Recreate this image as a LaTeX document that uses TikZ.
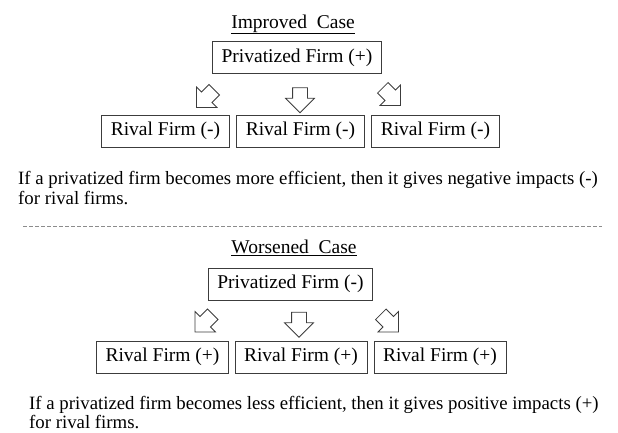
\documentclass[tikz,border=0pt]{standalone}
\usepackage{fontspec}
\setmainfont{Liberation Serif}
\usepackage{tikz}
\usetikzlibrary{shapes.arrows}
\usepackage{xcolor}
\definecolor{linegray}{RGB}{60, 60, 60}
\definecolor{sepgray}{RGB}{140, 140, 140}

\tikzset{
  firmbox/.style={draw=linegray, line width=0.8pt, minimum height=32pt,
    inner xsep=9pt, inner ysep=0pt, font=\fontsize{19.5}{20}\selectfont},
  blockarrow/.style={single arrow, draw=linegray, line width=0.8pt,
    inner xsep=0pt, inner ysep=7pt, minimum height=25pt,
    single arrow head extend=7pt},
  casetitle/.style={font=\fontsize{19.5}{20}\selectfont, anchor=base},
  note/.style={font=\fontsize{18.8}{20}\selectfont, anchor=base west, inner sep=0pt}
}

\begin{document}
\begin{tikzpicture}[x=1pt, y=1pt]
        \useasboundingbox (0,0) rectangle (618,-432);

        % ---- IMPROVED CASE ----
        \node[casetitle] (titleA) at (293, -28) {\underline{Improved\ \ Case}};
        \node[firmbox] (privA) at (297, -57.5) {Privatized Firm (+)};

        \node[blockarrow, rotate=225] (arrAl) at (208, -96) {};
        \node[blockarrow, rotate=-90] (arrAm) at (300, -96.5) {};
        \node[blockarrow, rotate=-45] (arrAr) at (389, -94) {};

        \node[firmbox] (rivalA1) at (165.5, -131) {Rival Firm (-)};
        \node[firmbox] (rivalA2) at (300.5, -131) {Rival Firm (-)};
        \node[firmbox] (rivalA3) at (435.5, -131) {Rival Firm (-)};

        \node[note] (noteA1) at (18, -184) {If a privatized firm becomes more efficient, then it gives negative impacts (-)};
        \node[note] (noteA2) at (18, -204) {for rival firms.};

        % separator
        \draw[sepgray, line width=0.8pt, dash pattern=on 3.5pt off 2.5pt] (23, -226) -- (602, -226);

        % ---- WORSENED CASE ----
        \node[casetitle] (titleB) at (294, -253) {\underline{Worsened\ \ Case}};
        \node[firmbox] (privB) at (290.5, -284) {Privatized Firm (-)};

        \node[blockarrow, rotate=225] (arrBl) at (206.5, -320.5) {};
        \node[blockarrow, rotate=-90] (arrBm) at (299, -321) {};
        \node[blockarrow, rotate=-45] (arrBr) at (387, -320.5) {};

        \node[firmbox] (rivalB1) at (162.5, -357) {Rival Firm (+)};
        \node[firmbox] (rivalB2) at (301, -357) {Rival Firm (+)};
        \node[firmbox] (rivalB3) at (440, -357) {Rival Firm (+)};

        \node[note] (noteB1) at (29, -409) {If a privatized firm becomes less efficient, then it gives positive impacts (+)};
        \node[note] (noteB2) at (29, -428) {for rival firms.};
\end{tikzpicture}
\end{document}
